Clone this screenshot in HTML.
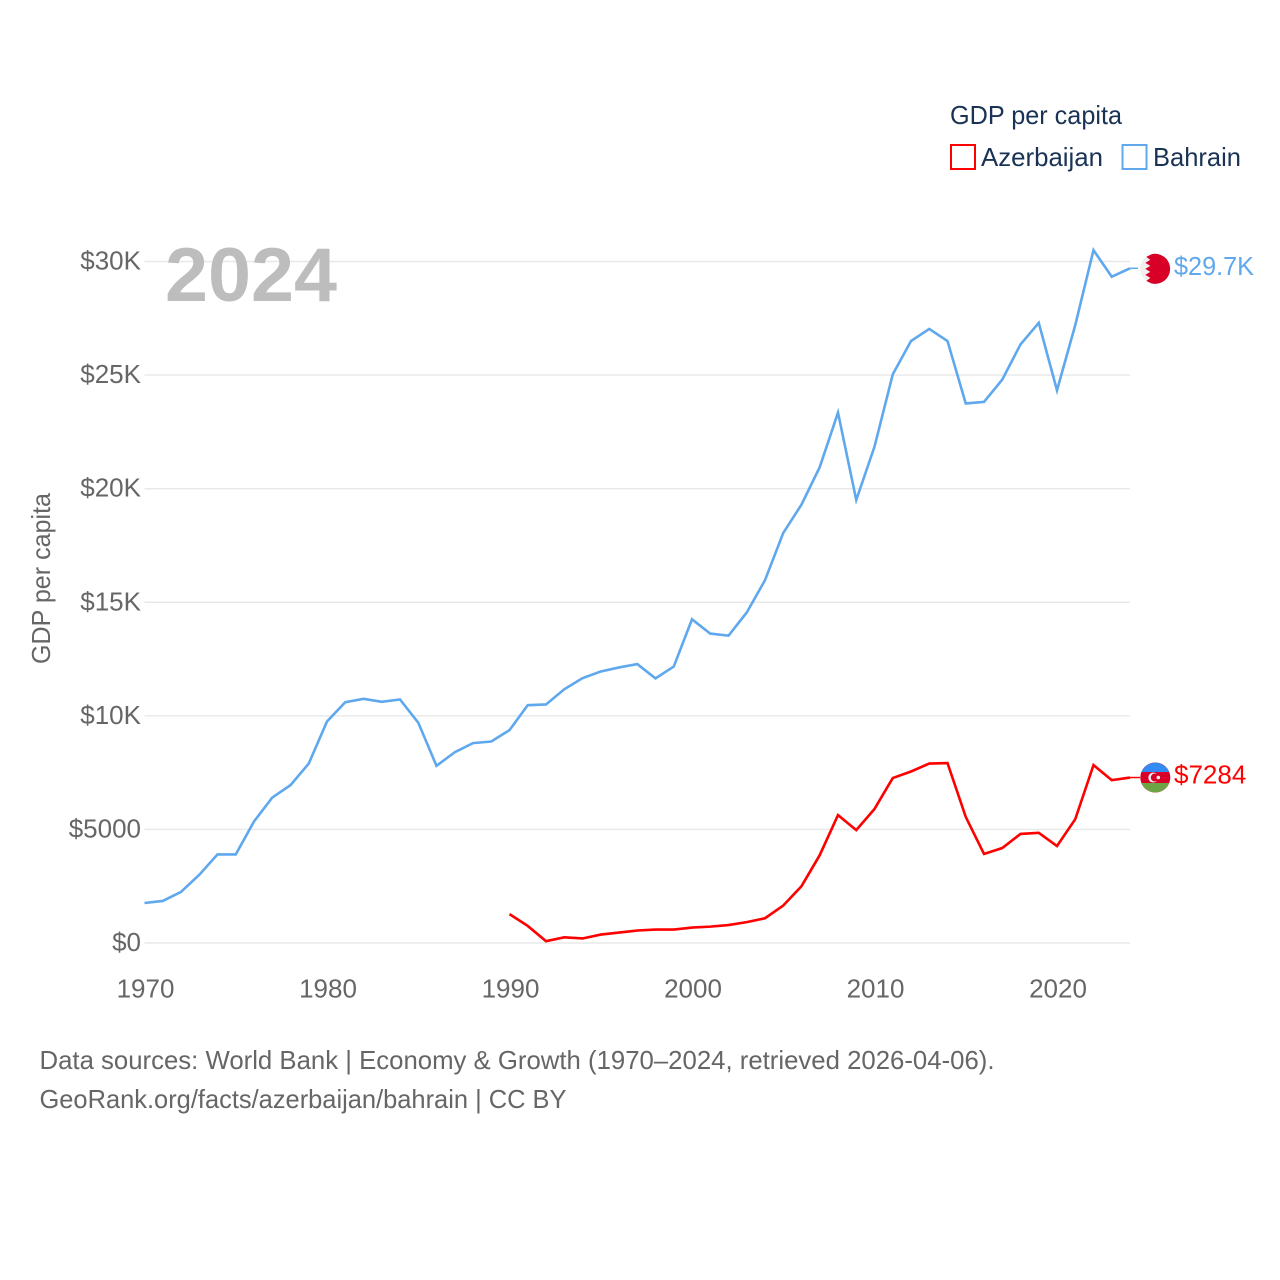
<!DOCTYPE html>
<html>
<head>
<meta charset="utf-8">
<title>GDP per capita: Azerbaijan and Bahrain</title>
<style>
html,body{margin:0;padding:0;background:#fff;}
svg{display:block;}
text{font-family:"Liberation Sans",sans-serif;font-size:26px;}
</style>
</head>
<body>
<svg id="chart" xmlns="http://www.w3.org/2000/svg" width="1280" height="1280" viewBox="0 0 1280 1280">
  <text x="950" y="124" fill="#1a3355" textLength="172" lengthAdjust="spacingAndGlyphs">GDP per capita</text>
  <g>
    <rect x="951" y="145" width="24" height="24" fill="#fff" stroke="#ff0000" stroke-width="2"/>
    <text x="981" y="166" fill="#1a3355" textLength="122" lengthAdjust="spacingAndGlyphs">Azerbaijan</text>
  </g>
  <g>
    <rect x="1122.500" y="145" width="24" height="24" fill="#fff" stroke="#5fa8ee" stroke-width="2"/>
    <text x="1153" y="166" fill="#1a3355" textLength="88" lengthAdjust="spacingAndGlyphs">Bahrain</text>
  </g>
  <text transform="translate(50 664) rotate(-90)" fill="#666" textLength="171" lengthAdjust="spacingAndGlyphs">GDP per capita</text>
  <g id="grid"></g>
  <g id="yticks"></g>
  <g id="xticks"></g>
  <text x="165" y="301" fill="#bdbdbd" style="font-size:76px;font-weight:700" textLength="172" lengthAdjust="spacingAndGlyphs">2024</text>
  <g id="series"></g>
  <g id="ends"></g>
  <text x="39.500" y="1069" fill="#666" textLength="955" lengthAdjust="spacingAndGlyphs">Data sources: World Bank | Economy &amp; Growth (1970–2024, retrieved 2026-04-06).</text>
  <text x="39.500" y="1108" fill="#666" textLength="527" lengthAdjust="spacingAndGlyphs">GeoRank.org/facts/azerbaijan/bahrain | CC BY</text>
</svg>
<script>
const bahrainStartYear = 1970;
const azerbaijanStartYear = 1990;
const bahrainValues = [1.76,1.85,2.25,3.0,3.9,3.9,5.35,6.4,6.95,7.9,9.75,10.6,10.75,10.62,10.72,9.7,7.8,8.4,8.8,8.87,9.37,10.47,10.5,11.17,11.66,11.95,12.13,12.28,11.65,12.17,14.25,13.62,13.53,14.55,15.97,18.05,19.3,20.95,23.35,19.5,21.85,25.03,26.5,27.03,26.5,23.75,23.82,24.8,26.35,27.3,24.33,27.2,30.5,29.33,29.7];
const azerbaijanValues = [1.27,0.75,0.08,0.25,0.2,0.37,0.46,0.55,0.59,0.59,0.68,0.72,0.79,0.92,1.09,1.65,2.5,3.87,5.63,4.97,5.9,7.26,7.55,7.9,7.92,5.55,3.92,4.18,4.8,4.85,4.27,5.45,7.83,7.17,7.284];
const yTickValues = [0,5,10,15,20,25,30];
const yTickLabels = ["$0","$5000","$10K","$15K","$20K","$25K","$30K"];
const xTickYears = [1970,1980,1990,2000,2010,2020];
const bahrainEndLabel = "$29.7K";
const azerbaijanEndLabel = "$7284";

const NS = "http://www.w3.org/2000/svg";
const plotLeft = 144.5, plotRight = 1130, yearMin = 1970, yearMax = 2024;
const yZero = 943, yThirty = 261.5, valueMax = 30;
function xScale(year){ return plotLeft + (year - yearMin) * (plotRight - plotLeft) / (yearMax - yearMin); }
function yScale(v){ return yZero + v * (yThirty - yZero) / valueMax; }
function make(tag, attrs, parent){
  const el = document.createElementNS(NS, tag);
  for (const k in attrs) el.setAttribute(k, attrs[k]);
  parent.appendChild(el);
  return el;
}

const grid = document.getElementById("grid");
const yticks = document.getElementById("yticks");
yTickValues.forEach(function(v, i){
  const line = make("line", {x1: plotLeft, x2: plotRight, y1: yScale(v), y2: yScale(v), stroke: "#e8e8e8", "stroke-width": 1.4}, grid);
  
  
  const t = make("text", {x: 141, y: yScale(v) + 8, "text-anchor": "end", fill: "#666"}, yticks);
  
  
  t.textContent = yTickLabels[i];
});

const xticks = document.getElementById("xticks");
xTickYears.forEach(function(year){
  const t = make("text", {x: xScale(year) + 1, y: 997.500, "text-anchor": "middle", fill: "#666"}, xticks);
  
  
  t.textContent = String(year);
});

const series = document.getElementById("series");
function points(values, startYear){
  return values.map(function(v, i){ return xScale(startYear + i).toFixed(2) + "," + yScale(v).toFixed(2); }).join(" ");
}
const bahrainLine = make("polyline", {points: points(bahrainValues, bahrainStartYear), fill: "none", stroke: "#5fa8ee", "stroke-width": 2.6, "stroke-linejoin": "miter"}, series);


const azerbaijanLine = make("polyline", {points: points(azerbaijanValues, azerbaijanStartYear), fill: "none", stroke: "#ff0000", "stroke-width": 2.6, "stroke-linejoin": "miter"}, series);



const ends = document.getElementById("ends");
const flagX = 1155.3, labelX = 1174;

/* Bahrain end marker */
const bY = yScale(bahrainValues[bahrainValues.length - 1]);
const bConn = make("line", {x1: plotRight, x2: 1138, y1: bY, y2: bY, stroke: "#5fa8ee", "stroke-width": 1.5}, ends);


const bFlag = make("g", {transform: "translate(" + flagX + " " + (bY + 0.5) + ")"}, ends);


make("circle", {r: 15, cx: 0, cy: 0, fill: "#f0f0f0"}, bFlag);
make("path", {d: "M-4 -14.500 A15 15 0 1 1 -4 14.500 L-9 12 L-5 9 L-10 6 L-5 3 L-10 0 L-5 -3 L-10 -6 L-5 -9 L-9 -12 Z", fill: "#d80027"}, bFlag);
const bLabel = make("text", {x: labelX, y: bY + 6.500, fill: "#5fa8ee", textLength: 80, lengthAdjust: "spacingAndGlyphs"}, ends);


bLabel.textContent = bahrainEndLabel;

/* Azerbaijan end marker */
const aY = yScale(azerbaijanValues[azerbaijanValues.length - 1]);
const aConn = make("line", {x1: plotRight, x2: 1140, y1: aY, y2: aY, stroke: "#ff0000", "stroke-width": 1.5}, ends);


const aFlag = make("g", {transform: "translate(" + flagX + " " + aY + ")"}, ends);


make("circle", {r: 15, cx: 0, cy: 0, fill: "#d80027"}, aFlag);
make("path", {d: "M-13.900 -5.500 A15 15 0 0 1 13.900 -5.500 Z", fill: "#338af3"}, aFlag);
make("path", {d: "M-13.900 5.500 A15 15 0 0 0 13.900 5.500 Z", fill: "#6da544"}, aFlag);
make("circle", {cx: -2, cy: 0, r: 5, fill: "#f0f0f0"}, aFlag);
make("circle", {cx: -0.5, cy: 0, r: 4, fill: "#d80027"}, aFlag);
make("circle", {cx: 3, cy: 0, r: 1.800, fill: "#f0f0f0"}, aFlag);
const aLabel = make("text", {x: labelX, y: aY + 6, fill: "#ff0000"}, ends);


aLabel.textContent = azerbaijanEndLabel;
</script>
</body>
</html>
